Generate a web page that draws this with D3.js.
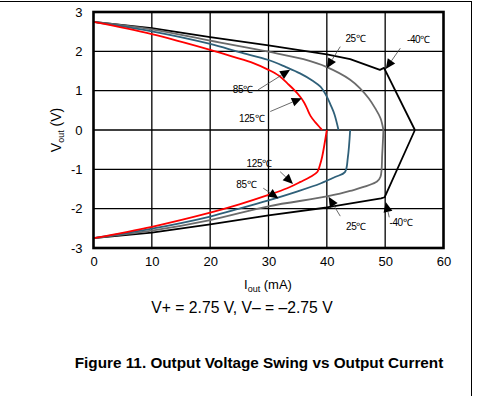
<!DOCTYPE html>
<html><head><meta charset="utf-8">
<script src="https://cdn.jsdelivr.net/npm/d3@7"></script>
<style>body{margin:0;background:#fff}svg{display:block}text{font-family:"Liberation Sans",Arial,sans-serif}</style>
</head><body>
<svg id="c" width="481" height="396"></svg>
<script>
const xTicks = [0,10,20,30,40,50,60];
const yTicks = [-3,-2,-1,0,1,2,3];
const seriesNames = ["-40℃","25℃","85℃","125℃"];
const seriesColors = ["#000000","#6b6b6b","#2f6079","#ff0000"];
// positive swing (x = mA, y = V)
const top_m40 = [[0,2.75],[10,2.59],[20,2.36],[30,2.15],[40,1.92],[44,1.80],[49.1,1.53],[49.8,1.58],[55.1,0]];
const top_25  = [[0,2.75],[10,2.56],[20,2.27],[30,1.99],[36,1.80],[40,1.60],[44,1.28],[45.7,1.06],[47.2,0.80],[48.3,0.55],[49.2,0.30],[49.7,0]];
const top_85  = [[0,2.75],[10,2.51],[20,2.19],[25,1.98],[30,1.78],[33,1.60],[35.4,1.44],[37.5,1.26],[38.9,1.10],[40,0.85],[40.7,0.62],[41.3,0.40],[42,0]];
const top_125 = [[0,2.75],[10,2.44],[20,2.04],[24,1.86],[27.4,1.70],[30,1.53],[31.8,1.38],[33.2,1.19],[34.4,1.02],[35.4,0.85],[36.1,0.70],[36.6,0.55],[37.2,0.36],[38,0.20],[38.9,0.05],[39.2,0]];
// negative swing
const bot_m40 = [[0,-2.75],[10,-2.61],[20,-2.40],[30,-2.17],[40,-1.97],[49.3,-1.74],[49.9,-1.71],[55.1,0]];
const bot_25  = [[0,-2.75],[10,-2.56],[20,-2.29],[30,-1.94],[40,-1.69],[44,-1.55],[48.6,-1.31],[49.2,-1.19],[49.5,-0.6],[49.7,0]];
const bot_85  = [[0,-2.75],[10,-2.51],[20,-2.20],[25,-2.00],[30,-1.79],[35,-1.56],[38.9,-1.36],[41.5,-1.19],[43.1,-1.07],[43.6,-0.7],[44,0]];
const bot_125 = [[0,-2.75],[10,-2.46],[20,-2.10],[25,-1.89],[30,-1.65],[33.2,-1.48],[35.5,-1.32],[37.2,-1.19],[38.4,-1.06],[38.8,-0.9],[39.2,-0.68],[40,0]];
// annotations: [label, labelX, labelY, fromX, fromY, tipX, tipY]
const annotations = [
  ["85℃", 25.6, 1.02, 28.2, 1.02, 33.7, 1.53],
  ["125℃", 27.1, 0.29, 30.3, 0.47, 35.7, 0.81],
  ["25℃", 44.9, 2.33, 42.3, 2.12, 40.0, 1.57],
  ["-40℃", 55.7, 2.31, 52.6, 2.08, 50.1, 1.55],
  ["125℃", 28.4, -0.85, 32.0, -1.06, 34.2, -1.37],
  ["85℃", 26.2, -1.38, 29.1, -1.48, 31.7, -1.74],
  ["25℃", 45.0, -2.46, 42.3, -2.19, 40.3, -1.70],
  ["-40℃", 52.7, -2.36, 50.7, -2.22, 50.1, -1.83]
];

const svg = d3.select("#c");
const L = 93.5, R = 443.5, T = 12, B = 248;
const x = d3.scaleLinear().domain([0,60]).range([L,R]);
const y = d3.scaleLinear().domain([-3,3]).range([B,T]);

// frame
svg.append("line").attr("x1",0).attr("x2",472).attr("y1",1.5).attr("y2",1.5).attr("stroke","#000").attr("stroke-width",1);
svg.append("line").attr("x1",471.5).attr("x2",471.5).attr("y1",1).attr("y2",396).attr("stroke","#000").attr("stroke-width",1);

// grid
const g = svg.append("g");
g.selectAll(".vg").data(xTicks.slice(1,-1)).enter().append("line")
  .attr("x1",d=>x(d)).attr("x2",d=>x(d)).attr("y1",T).attr("y2",B).attr("stroke","#000").attr("stroke-width",1.3);
g.selectAll(".hg").data(yTicks.slice(1,-1)).enter().append("line")
  .attr("x1",L).attr("x2",R).attr("y1",d=>y(d)).attr("y2",d=>y(d)).attr("stroke","#000").attr("stroke-width",1.3);

// axes labels via d3 axes
const fmt = d => String(d);
const xAxis = svg.append("g").attr("transform",`translate(0,${B})`)
  .call(d3.axisBottom(x).tickValues(xTicks).tickFormat(fmt).tickSize(0).tickPadding(9));
xAxis.select(".domain").remove();
xAxis.selectAll("text").attr("font-size",13).attr("fill","#000").attr("font-family","Liberation Sans, Arial, sans-serif");
const yAxis = svg.append("g").attr("transform",`translate(${L},0)`)
  .call(d3.axisLeft(y).tickValues(yTicks).tickFormat(fmt).tickSize(0).tickPadding(11));
yAxis.select(".domain").remove();
yAxis.selectAll("text").attr("font-size",13).attr("fill","#000").attr("font-family","Liberation Sans, Arial, sans-serif");

// curves
const lineLin = d3.line().x(d=>x(d[0])).y(d=>y(d[1]));
const lineSm = d3.line().x(d=>x(d[0])).y(d=>y(d[1])).curve(d3.curveCatmullRom.alpha(0.5));
const curves = [
  [top_m40, 0, lineLin],[bot_m40, 0, lineLin],
  [top_25, 1, lineSm],[bot_25, 1, lineSm],
  [top_85, 2, lineSm],[bot_85, 2, lineSm],
  [top_125, 3, lineSm],[bot_125, 3, lineSm]
];
curves.forEach(([data, i, gen]) => {
  svg.append("path").attr("d", gen(data)).attr("fill","none")
    .attr("stroke", seriesColors[i]).attr("stroke-width", 1.8).attr("stroke-linejoin","round");
});

// plot border
svg.append("rect").attr("x",L).attr("y",T).attr("width",R-L).attr("height",B-T)
  .attr("fill","none").attr("stroke","#000").attr("stroke-width",2.6);

// annotations
const ann = svg.append("g");
annotations.forEach(([lab, lx, ly, fx, fy, tx, ty]) => {
  const x1 = x(fx), y1 = y(fy), x2 = x(tx), y2 = y(ty);
  const ang = Math.atan2(y2-y1, x2-x1);
  const len = 10, w = 4.5;
  const bx = x2 - len*Math.cos(ang), by = y2 - len*Math.sin(ang);
  ann.append("line").attr("x1",x1).attr("y1",y1).attr("x2",bx).attr("y2",by)
    .attr("stroke","#444").attr("stroke-width",0.8);
  const p = [[x2,y2],[bx + w*Math.sin(ang), by - w*Math.cos(ang)],[bx - w*Math.sin(ang), by + w*Math.cos(ang)]];
  ann.append("path").attr("d", "M"+p.map(q=>q.join(",")).join("L")+"Z").attr("fill","#000");
  ann.append("text").attr("x",x(lx)).attr("y",y(ly)).attr("dy","0.35em").attr("text-anchor","middle")
    .attr("font-size",10).attr("letter-spacing",-0.4).text(lab);
});

// axis titles
const yt = svg.append("text").attr("transform",`translate(61,${y(0)}) rotate(-90)`).attr("text-anchor","middle")
  .attr("font-size",14);
yt.append("tspan").text("V");
yt.append("tspan").attr("font-size",9).attr("dy",3).text("out");
yt.append("tspan").attr("dy",-3).text(" (V)");

const xt = svg.append("text").attr("x",268).attr("y",289).attr("text-anchor","middle").attr("font-size",13);
xt.append("tspan").text("I");
xt.append("tspan").attr("font-size",9).attr("dy",3).text("out");
xt.append("tspan").attr("dy",-3).text(" (mA)");

svg.append("text").attr("x",242).attr("y",313).attr("text-anchor","middle").attr("font-size",15.7)
  .text("V+ = 2.75 V, V\u2013 = \u20132.75 V");

svg.append("text").attr("x",259).attr("y",368).attr("text-anchor","middle").attr("font-size",15.3)
  .attr("font-weight","bold").text("Figure 11. Output Voltage Swing vs Output Current");
</script>
</body></html>
